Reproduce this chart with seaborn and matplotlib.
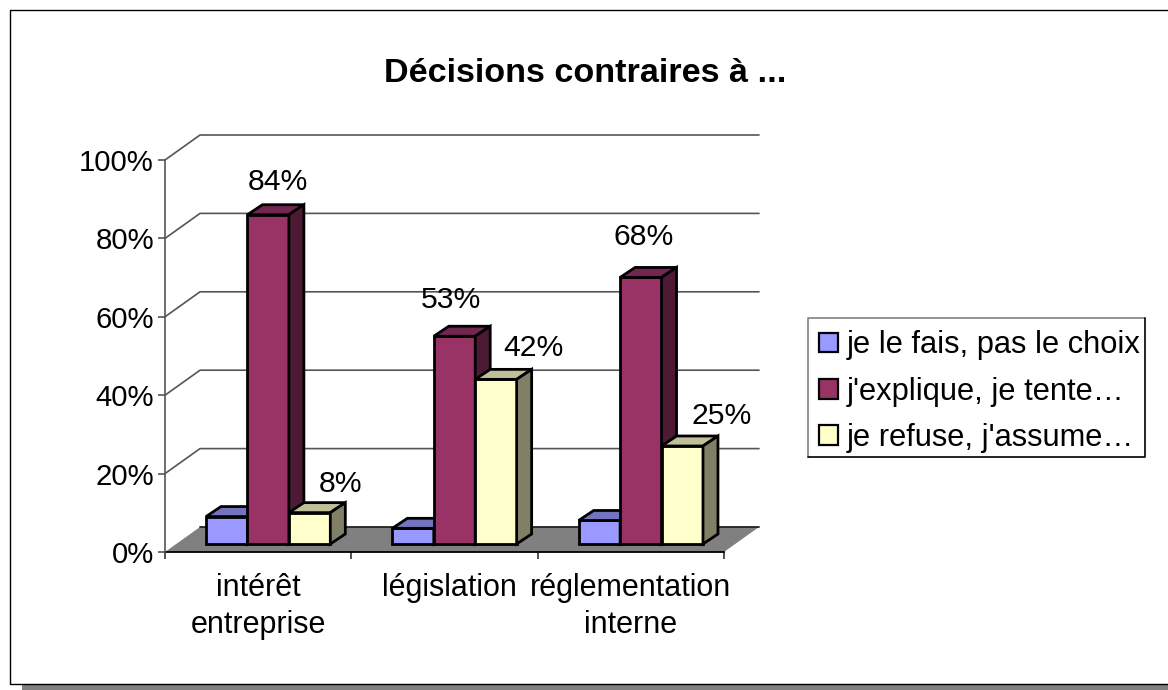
import matplotlib
matplotlib.use("Agg")
import matplotlib.pyplot as plt
from matplotlib.lines import Line2D
from matplotlib.patches import Polygon, Rectangle
from matplotlib.transforms import ScaledTranslation
import pandas as pd
import seaborn as sns

categories = ["intérêt\nentreprise", "législation", "réglementation\ninterne"]
series_names = ["je le fais, pas le choix", "j'explique, je tente…", "je refuse, j'assume…"]
subi = [7, 4, 6]
explique = [84, 53, 68]
refuse = [8, 42, 25]
yticks = [0, 20, 40, 60, 80, 100]
title = "Décisions contraires à ..."

W, H = 1168, 690
front = ["#9999FF", "#993366", "#FFFFCC"]
tops = ["#7373BF", "#732650", "#BFBF99"]
sides = ["#4D4D80", "#4D1A33", "#808066"]

sns.set_theme(style="white")
plt.rcParams["font.family"] = ["Liberation Sans", "DejaVu Sans"]

df = pd.DataFrame({
    "categorie": categories * 3,
    "reponse": [s for s in series_names for _ in categories],
    "valeur": subi + explique + refuse,
})

fig = plt.figure(figsize=(W / 100, H / 100), dpi=100, facecolor="white")
ax = fig.add_axes([165 / W, (H - 552) / H, 559 / W, 392 / H])
ax.patch.set_alpha(0)

sns.barplot(data=df, x="categorie", y="valeur", hue="reponse", order=categories,
            hue_order=series_names, palette=front, saturation=1, width=0.667, gap=0,
            edgecolor="black", linewidth=2, ax=ax)
ax.set_xlim(-0.5, 2.5)
ax.set_ylim(0, 100)
handles, labels = ax.get_legend_handles_labels()
ax.get_legend().remove()

# pixels -> data units for the fake 3d look
px_x = 3 / 559
px_y = 100 / 392
wall_dx, wall_dy = 35 * px_x, 25 * px_y
bar_dx, bar_dy = 15 * px_x, 10 * px_y
shift_x, lift_y = 10 * px_x, 8 * px_y

# floor and back wall
ax.add_patch(Polygon([(-0.5, 0), (-0.5 + wall_dx, wall_dy), (2.5 + wall_dx, wall_dy), (2.5, 0)],
                     closed=True, facecolor="#808080", edgecolor="none", zorder=1, clip_on=False))
ax.plot([-0.5 + wall_dx, 2.5 + wall_dx], [wall_dy, wall_dy], color="#222222", lw=1.3, zorder=1.5, clip_on=False)
for v in yticks[1:]:
    ax.plot([-0.5, -0.5 + wall_dx, 2.5 + wall_dx], [v, v + wall_dy, v + wall_dy],
            color="#555555", lw=1.2, zorder=1.5, clip_on=False)

# bars: front face from seaborn, then top and side
bars = list(ax.patches[:9])
label_px = {(1, 0): (10, 19), (1, 1): (-4, 22), (1, 2): (3, 26),
            (2, 0): (31, 15), (2, 1): (38, 17), (2, 2): (39, 16)}
n = len(categories)
for k, b in enumerate(bars):
    hue_i, cat_i = k // n, k % n
    b.set_x(b.get_x() + shift_x)
    b.set_y(lift_y)
    b.set_zorder(3 + hue_i)
    b.set_clip_on(False)
    b.set_joinstyle("miter")
    x0, x1 = b.get_x(), b.get_x() + b.get_width()
    y0, y1 = lift_y, lift_y + b.get_height()
    ax.add_patch(Polygon([(x0, y1), (x0 + bar_dx, y1 + bar_dy), (x1 + bar_dx, y1 + bar_dy), (x1, y1)],
                         closed=True, facecolor=tops[hue_i], edgecolor="black", lw=2,
                         zorder=3 + hue_i, clip_on=False, joinstyle="miter"))
    ax.add_patch(Polygon([(x1, y0), (x1 + bar_dx, y0 + bar_dy), (x1 + bar_dx, y1 + bar_dy), (x1, y1)],
                         closed=True, facecolor=sides[hue_i], edgecolor="black", lw=2,
                         zorder=3 + hue_i, clip_on=False, joinstyle="miter"))
    if (hue_i, cat_i) in label_px:
        ax.annotate(f"{b.get_height():.0f}%", xy=((x0 + x1) / 2, y1), xytext=label_px[(hue_i, cat_i)],
                    textcoords="offset pixels", ha="center", va="bottom", fontsize=21.7,
                    color="black", zorder=10, annotation_clip=False)

# axes
sns.despine(ax=ax, top=True, right=True)
ax.spines["left"].set_color("#555555")
ax.spines["left"].set_linewidth(1.2)
ax.spines["bottom"].set_color("black")
ax.spines["bottom"].set_linewidth(1.3)
ax.spines["bottom"].set_zorder(2)
ax.set_xlabel("")
ax.set_ylabel("")
ax.set_yticks(yticks)
ax.set_yticklabels([f"{v}%" for v in yticks], fontsize=21.2)
ax.tick_params(axis="y", left=True, length=5, width=1.2, color="#555555", pad=3, labelcolor="black")
ax.set_xticks([-0.5, 0.5, 1.5, 2.5])
ax.set_xticklabels([])
ax.tick_params(axis="x", which="major", bottom=True, length=5, width=1.2, color="#333333")
ax.set_xticks([0, 1, 2], minor=True)
ax.set_xticklabels(categories, minor=True, fontsize=22, linespacing=1.3, color="black")
ax.tick_params(axis="x", which="minor", bottom=False, length=0, pad=15)
# the middle label sits a little right of its slot
mid = ax.get_xticklabels(minor=True)[1]
mid.set_transform(mid.get_transform() + ScaledTranslation(5 / 100, 0, fig.dpi_scale_trans))

fig.text(585 / W, 1 - 73 / H, title, ha="center", va="center", fontsize=24.6, fontweight="bold", color="black")

leg = fig.legend(handles, labels, loc="upper left", bbox_to_anchor=(810 / W, 1 - 321 / H),
                 fontsize=22.2, frameon=False, labelcolor="black",
                 handlelength=0.6, handleheight=0.6, handletextpad=0.3, labelspacing=0.53,
                 borderpad=0.3, borderaxespad=0)
for h in leg.legend_handles:
    h.set_edgecolor("black")
    h.set_linewidth(1.6)

# legend box: grey top/left, black bottom/right
lx0, lx1, ly0, ly1 = 808 / W, 1145 / W, 1 - 318 / H, 1 - 457 / H
fig.add_artist(Line2D([lx0, lx0, lx1], [ly1, ly0, ly0], color="#808080", lw=1.2))
fig.add_artist(Line2D([lx0, lx1, lx1], [ly1, ly1, ly0], color="black", lw=1.2))

# chart area frame and shadow
fig.add_artist(Rectangle((22 / W, 0), 1.0, 6 / H, transform=fig.transFigure, facecolor="#808080", edgecolor="none"))
fig.add_artist(Line2D([1.0, 10 / W, 10 / W, 1.0], [1 - 684 / H, 1 - 684 / H, 1 - 10 / H, 1 - 10 / H],
                      color="black", lw=1.0))

fig.savefig("out.png", dpi=100, facecolor="white")
